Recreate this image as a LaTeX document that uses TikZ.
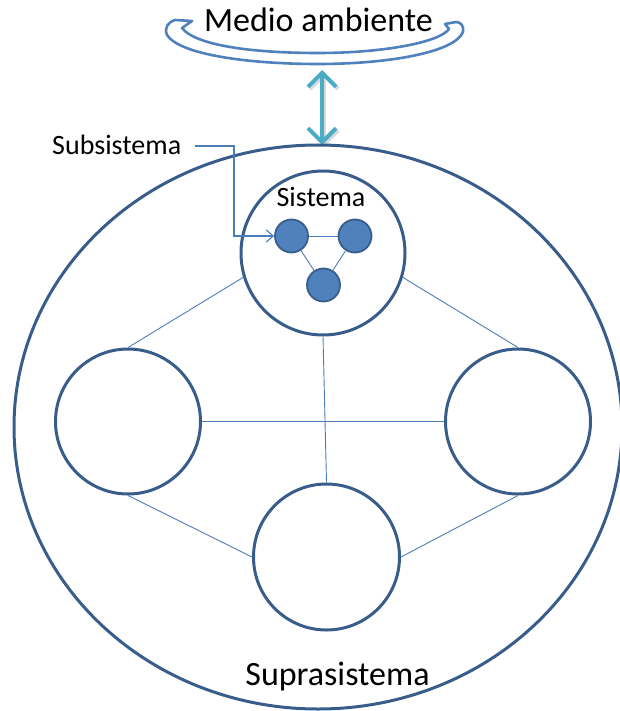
\documentclass[tikz,border=0pt]{standalone}
\usepackage{fontspec}
\setmainfont{Carlito}
\usetikzlibrary{arrows.meta,shapes.geometric}
\definecolor{rim}{HTML}{385D8A}
\definecolor{link}{HTML}{4A7EBB}
\definecolor{unit}{HTML}{4F81BD}
\definecolor{flow}{HTML}{4BACC6}
\tikzset{
  ring/.style={circle, draw=rim, line width=3pt, inner sep=0pt, minimum size=#1},
  part/.style={circle, draw=rim, fill=unit, line width=1.8pt, inner sep=0pt, minimum size=33pt},
  tie/.style={draw=link, line width=0.9pt},
  lbl/.style={anchor=base, inner sep=0pt, text=black},
  band/.style={draw=unit, line width=2.6pt, line join=round}
}
\begin{document}
\begin{tikzpicture}[x=1pt, y=-1pt]
  \useasboundingbox (0,0) rectangle (620,711);

  % environment: curved band with its label
  \path[band] (192,21) -- (175,20)
     .. controls (168,22) and (164,28) .. (167,35)
     .. controls (180,55) and (250,64) .. (318,64)
     .. controls (390,64) and (455,52) .. (463,32)
     .. controls (464,26) and (461,22) .. (456,22)
     -- (445,24) -- (449,29)
     .. controls (440,42) and (385,53) .. (318,53)
     .. controls (250,53) and (195,45) .. (182,28) -- cycle;
  \node[lbl, font=\fontsize{34}{40}\selectfont] (env) at (318.5,32) {Medio ambiente};

  % exchange between environment and suprasystem
  \coordinate (up) at (322,70);
  \coordinate (down) at (322,145);
  \draw[draw=black!30, opacity=0.5, line width=4pt,
        {Straight Barb[length=14pt,width=28pt]}-{Straight Barb[length=14pt,width=28pt]}]
        ([xshift=2pt,yshift=-2pt]up) -- ([xshift=2pt,yshift=-2pt]down);
  \draw[draw=flow, line width=4pt,
        {Straight Barb[length=14pt,width=28pt]}-{Straight Barb[length=14pt,width=28pt]}]
        (up) -- (down);

  % suprasystem
  \node[ellipse, draw=rim, line width=3pt, minimum width=608pt, minimum height=564pt] (supra) at (318,427) {};
  \node[lbl, font=\fontsize{34}{40}\selectfont] (supralbl) at (337.5,685) {Suprasistema};

  % systems
  \node[ring=164pt] (sis) at (323,253) {};
  \node[ring=145pt] (left) at (128,421.5) {};
  \node[ring=145pt] (right) at (518,421.5) {};
  \node[ring=146pt] (bottom) at (326.5,557) {};
  \node[lbl, font=\fontsize{28}{33}\selectfont] (sislbl) at (321,207) {Sistema};

  % subsystems
  \node[part] (c1) at (291.5,236) {};
  \node[part] (c2) at (355,236) {};
  \node[part] (c3) at (323.5,285) {};
  \draw[tie] (c1) -- (c2);
  \draw[tie] (c1) -- (c3);
  \draw[tie] (c2) -- (c3);

  % relations between systems
  \draw[tie] (sis.197) -- (left.north);
  \draw[tie] (sis.343) -- (right.north);
  \draw[tie] (sis.south) -- (bottom.north);
  \draw[tie] (left.east) -- (right.west);
  \draw[tie] (left.south) -- (bottom.west);
  \draw[tie] (right.south) -- (bottom.east);

  % subsystem callout
  \node[lbl, font=\fontsize{28}{33}\selectfont] (sublbl) at (116.7,155) {Subsistema};
  \coordinate (callout) at (195,146);
  \coordinate (elbow) at (234,236);
  \draw[draw=link, line width=1.1pt, -{Straight Barb[length=7pt,width=12pt]}]
        (callout) -| (elbow) -- (c1.west);
\end{tikzpicture}
\end{document}
